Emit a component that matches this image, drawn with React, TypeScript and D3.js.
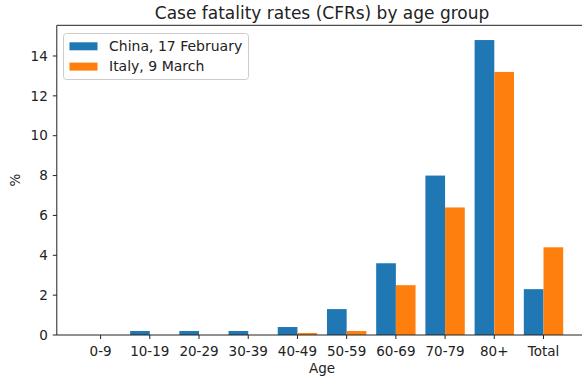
import React from "react";
import * as d3 from "d3";

const categories = ["0-9", "10-19", "20-29", "30-39", "40-49", "50-59", "60-69", "70-79", "80+", "Total"];
const chinaValues = [0, 0.2, 0.2, 0.2, 0.4, 1.3, 3.6, 8.0, 14.8, 2.3];
const italyValues = [0, 0, 0, 0, 0.1, 0.2, 2.5, 6.4, 13.2, 4.4];
const seriesNames = ["China, 17 February", "Italy, 9 March"];
const yTicks = [0, 2, 4, 6, 8, 10, 12, 14];

const W = 582;
const H = 378;
const FONT = "DejaVu Sans, sans-serif";
const COLORS = ["#1f77b4", "#ff7f0e"];

export default function App() {
  const barW = 0.4;
  const x = d3.scaleLinear().domain([-0.89, 9.89]).range([56.8, 587.3]);
  const y = d3.scaleLinear().domain([0, 15.54]).range([335, 25.3]);
  const series = [chinaValues, italyValues];
  const left = x(-0.89);
  const right = x(9.89);
  const top = y(15.54);
  const bottom = y(0);

  return (
    <svg width={W} height={H} style={{ position: "absolute", left: 0, top: 0, background: "#fff" }} fontFamily={FONT}>
      <rect x={0} y={0} width={W} height={H} fill="#fff" />
      {series.map((vals, si) =>
        vals.map((v, i) => {
          const x0 = si === 0 ? x(i - barW) : x(i);
          const x1 = si === 0 ? x(i) : x(i + barW);
          return (
            <rect key={`${si}-${i}`} x={x0} y={y(v)} width={x1 - x0} height={bottom - y(v)} fill={COLORS[si]} />
          );
        })
      )}
      {/* axes spines (right spine falls outside the visible area) */}
      <line x1={left} x2={left} y1={top} y2={bottom} stroke="#222" strokeWidth={1} />
      <line x1={left} x2={right} y1={top} y2={top} stroke="#222" strokeWidth={1} />
      <line x1={left} x2={right} y1={bottom} y2={bottom} stroke="#222" strokeWidth={1} />
      {/* y ticks */}
      {yTicks.map((t) => (
        <g key={t}>
          <line x1={left - 4} x2={left} y1={y(t)} y2={y(t)} stroke="#222" strokeWidth={1} />
          <text x={left - 9} y={y(t)} dy="0.35em" textAnchor="end" fontSize={13.5} fill="#222">
            {t}
          </text>
        </g>
      ))}
      {/* x ticks */}
      {categories.map((c, i) => (
        <g key={c}>
          <line x1={x(i)} x2={x(i)} y1={bottom} y2={bottom + 4} stroke="#222" strokeWidth={1} />
          <text x={x(i)} y={356} textAnchor="middle" fontSize={13.5} fill="#222">
            {c}
          </text>
        </g>
      ))}
      {/* axis labels */}
      <text x={(left + right) / 2} y={373} textAnchor="middle" fontSize={13.5} fill="#222">
        Age
      </text>
      <text transform={`translate(20, ${(top + bottom) / 2}) rotate(-90)`} textAnchor="middle" fontSize={13.5} fill="#222">
        %
      </text>
      {/* title */}
      <text x={(left + right) / 2} y={18.5} textAnchor="middle" fontSize={17} fill="#222">
        Case fatality rates (CFRs) by age group
      </text>
      {/* legend */}
      <rect x={63.5} y={33.5} width={185} height={46} rx={3} fill="#fff" fillOpacity={0.8} stroke="#ccc" strokeWidth={1} />
      {seriesNames.map((name, i) => (
        <g key={name}>
          <rect x={69.5} y={42.3 + i * 20.3} width={28} height={8} fill={COLORS[i]} />
          <text x={109} y={51 + i * 20.3} fontSize={14} fill="#222">
            {name}
          </text>
        </g>
      ))}
    </svg>
  );
}
